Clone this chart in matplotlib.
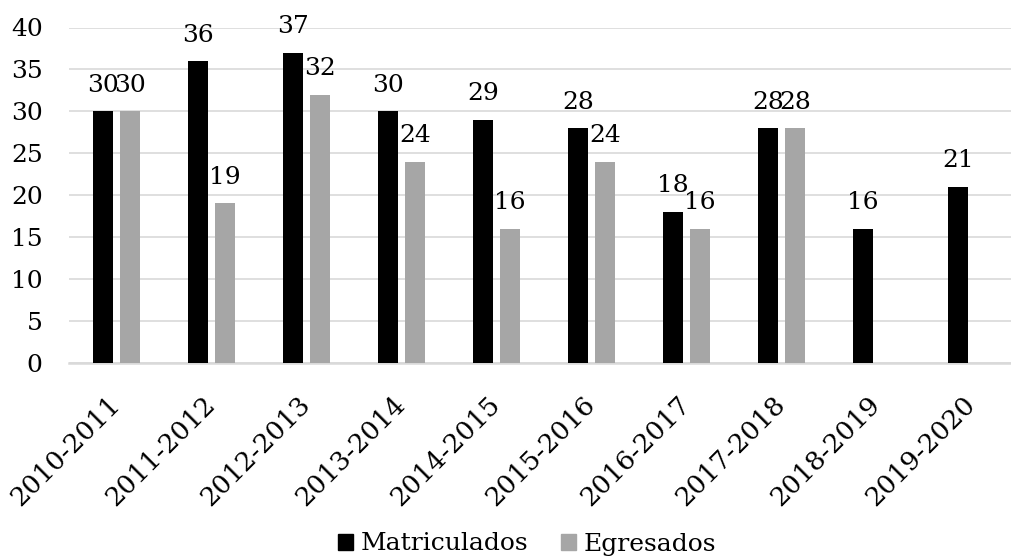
import matplotlib
matplotlib.use("Agg")
import matplotlib.pyplot as plt
from matplotlib.patches import Patch
import numpy as np

# data
periodos = ["2010-2011", "2011-2012", "2012-2013", "2013-2014", "2014-2015",
            "2015-2016", "2016-2017", "2017-2018", "2018-2019", "2019-2020"]
matriculados = [30, 36, 37, 30, 29, 28, 18, 28, 16, 21]
egresados = [30, 19, 32, 24, 16, 24, 16, 28, None, None]

plt.rcParams['font.family'] = ['DejaVu Serif']

W, H = 1011, 559
fig = plt.figure(figsize=(W / 100, H / 100), dpi=100)
# axes runs a little past the right edge, as in the reference
ax = fig.add_axes([69 / W, (H - 362.5) / H, 950 / W, 335 / H])

x = np.arange(len(periodos))
bw = 0.22
off = 0.142

ax.bar(x - off, matriculados, bw, color='black', zorder=3)
eg_x = [xi + off for xi, v in zip(x, egresados) if v is not None]
eg_v = [v for v in egresados if v is not None]
ax.bar(eg_x, eg_v, bw, color='#a6a6a6', zorder=3)

# value labels above the bars
for xi, v in zip(x - off, matriculados):
    ax.annotate(str(v), (xi, v), xytext=(0, 14), textcoords='offset points',
                ha='center', va='baseline', fontsize=18)
for xi, v in zip(eg_x, eg_v):
    ax.annotate(str(v), (xi, v), xytext=(0, 14), textcoords='offset points',
                ha='center', va='baseline', fontsize=18)

ax.set_xlim(-0.5, len(periodos) - 0.5)
ax.set_ylim(0, 40)
ax.set_yticks(range(0, 41, 5))
ax.yaxis.grid(True, color='#d9d9d9', linewidth=1.2, zorder=0)
ax.set_axisbelow(True)

for s in ['top', 'right', 'left']:
    ax.spines[s].set_visible(False)
ax.spines['bottom'].set_color('#d9d9d9')
ax.spines['bottom'].set_linewidth(1.8)

ax.set_xticks(x)
ax.set_xticklabels(periodos, rotation=45, ha='right', va='center',
                   rotation_mode='anchor', fontsize=19)
ax.tick_params(axis='x', length=0, pad=27)
ax.tick_params(axis='y', length=0, pad=19, labelsize=18)

handles = [Patch(color='black', label='Matriculados'),
           Patch(color='#a6a6a6', label='Egresados')]
fig.legend(handles=handles, loc='center', bbox_to_anchor=(527 / W, (H - 544) / H),
           ncol=2, frameon=False, fontsize=18, handlelength=0.6, handleheight=0.6,
           handletextpad=0.3, columnspacing=1.3, borderpad=0.2)

fig.savefig('out.png', dpi=100)
